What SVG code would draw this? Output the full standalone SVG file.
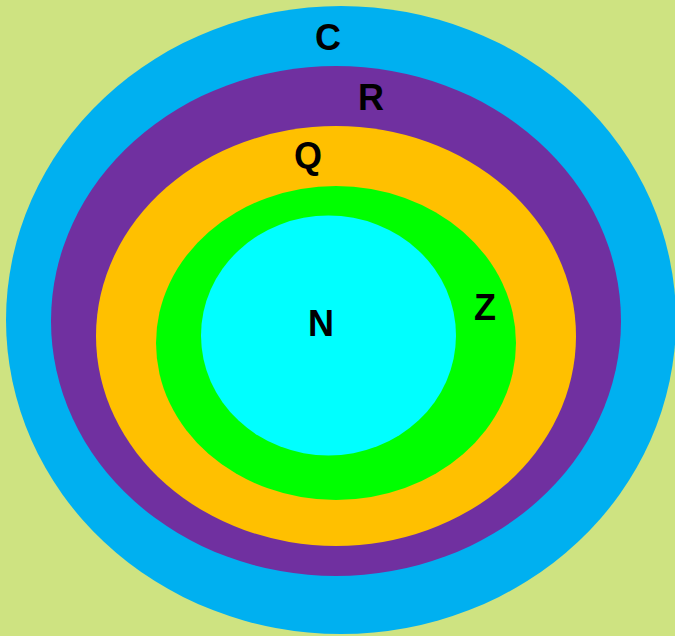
<svg xmlns="http://www.w3.org/2000/svg" width="675" height="636" viewBox="0 0 675 636">
<style>
.lbl{font-family:"Liberation Sans",Arial,sans-serif;font-weight:bold;font-size:36px;fill:#000;text-anchor:middle}
</style>
<rect width="675" height="636" fill="#CEE381"/>
<g id="C"><ellipse cx="341" cy="320" rx="335" ry="314" fill="#00B0F0"/><text class="lbl" x="328" y="50">C</text></g>
<g id="R"><ellipse cx="336" cy="321" rx="285" ry="255" fill="#7030A0"/><text class="lbl" x="371" y="110">R</text></g>
<g id="Q"><ellipse cx="336" cy="336" rx="240" ry="210" fill="#FFC000"/><text class="lbl" x="308" y="168">Q</text></g>
<g id="Z"><ellipse cx="336" cy="343" rx="180" ry="157" fill="#00FF00"/><text class="lbl" x="485" y="320">Z</text></g>
<g id="N"><ellipse cx="328.5" cy="335.5" rx="127.5" ry="120" fill="#00FFFF"/><text class="lbl" x="321" y="336">N</text></g>
<g id="connectors"/>
</svg>
